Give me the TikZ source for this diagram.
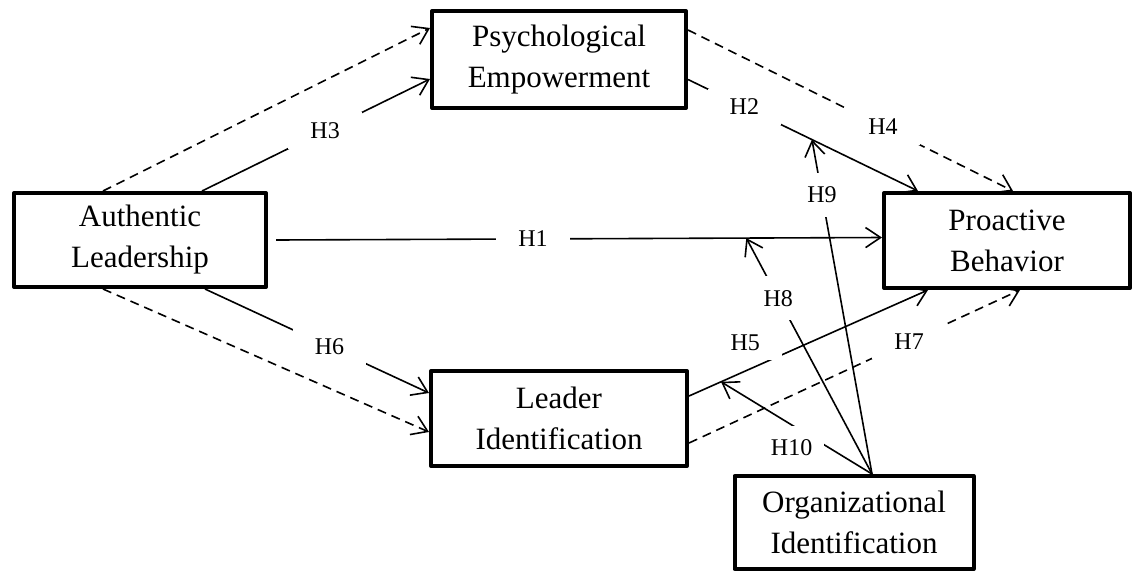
\documentclass[tikz,border=0pt]{standalone}
\usepackage{fontspec}
\setmainfont{Liberation Serif}
\usetikzlibrary{arrows.meta}
\begin{document}
\begin{tikzpicture}[x=1pt,y=-1pt,
	box/.style={draw,line width=4pt,line join=round,align=center,
	font=\fontsize{31}{41}\selectfont},
	link/.style={line width=1.6pt,-{Straight Barb[length=15pt,width=20pt]}},
	dashlink/.style={link,dash pattern=on 9pt off 6pt},
	hlabel/.style={fill=white,inner xsep=22pt,inner ysep=10pt,
	font=\fontsize{24}{28}\selectfont},
	modlabel/.style={hlabel,inner xsep=12pt,inner ysep=14pt}]
\useasboundingbox (0,0) rectangle (1134,573);
\node[box,minimum width=252pt,minimum height=94pt] (al) at (140,240) {Authentic\\Leadership};
\node[box,minimum width=254pt,minimum height=97pt] (pe) at (559,59.5) {Psychological\\Empowerment};
\node[box,minimum width=246pt,minimum height=95pt] (pb) at (1007,240.5) {Proactive\\Behavior};
\node[box,minimum width=256pt,minimum height=95pt] (li) at (559,418.5) {Leader\\Identification};
\node[box,minimum width=239pt,minimum height=93pt] (oi) at (854,522.5) {Organizational\\Identification};

\draw[dashlink] ([xshift=-37pt]al.north) -- ([yshift=31.5pt]pe.west);
\draw[link] ([xshift=62pt]al.north) -- node[hlabel,pos=0.54] (h3) {H3} ([yshift=-19.5pt]pe.west);
\draw[link] ([xshift=8pt]al.east) -- node[hlabel,pos=0.424] (h1) {H1}
	coordinate[pos=0.776] (m8) ([yshift=3pt]pb.west);
\draw[link] ([xshift=65pt]al.south) -- node[hlabel,pos=0.556] (h6) {H6} ([yshift=25.5pt]li.west);
\draw[dashlink] ([xshift=-37pt]al.south) -- ([yshift=-13.5pt]li.west);
\draw[link] ([yshift=-20pt]pe.east) -- node[hlabel,pos=0.245] (h2) {H2}
	coordinate[pos=0.539] (m9) ([xshift=-89pt]pb.north);
\draw[dashlink] ([yshift=29.5pt]pe.east) -- node[hlabel,pos=0.6] (h4) {H4} ([xshift=6pt]pb.north);
\draw[link] ([yshift=22.5pt]li.east) -- node[hlabel,pos=0.336,xshift=-24pt,yshift=18pt] (h5) {H5}
	coordinate[pos=0.134] (m10) ([xshift=-79pt]pb.south);
\draw[dashlink] ([yshift=-24.5pt]li.east) -- node[hlabel,pos=0.665] (h7) {H7} ([xshift=13pt]pb.south);

\draw[link] ([xshift=18pt]oi.north) -- node[modlabel,pos=0.745] (h8) {H8} (m8);
\draw[link] ([xshift=18pt]oi.north) -- node[modlabel,pos=0.834] (h9) {H9} (m9);
\draw[link] ([xshift=18pt]oi.north) -- node[modlabel,pos=0.413,xshift=-18pt,yshift=-12pt] (h10) {H10} (m10);
\end{tikzpicture}
\end{document}
